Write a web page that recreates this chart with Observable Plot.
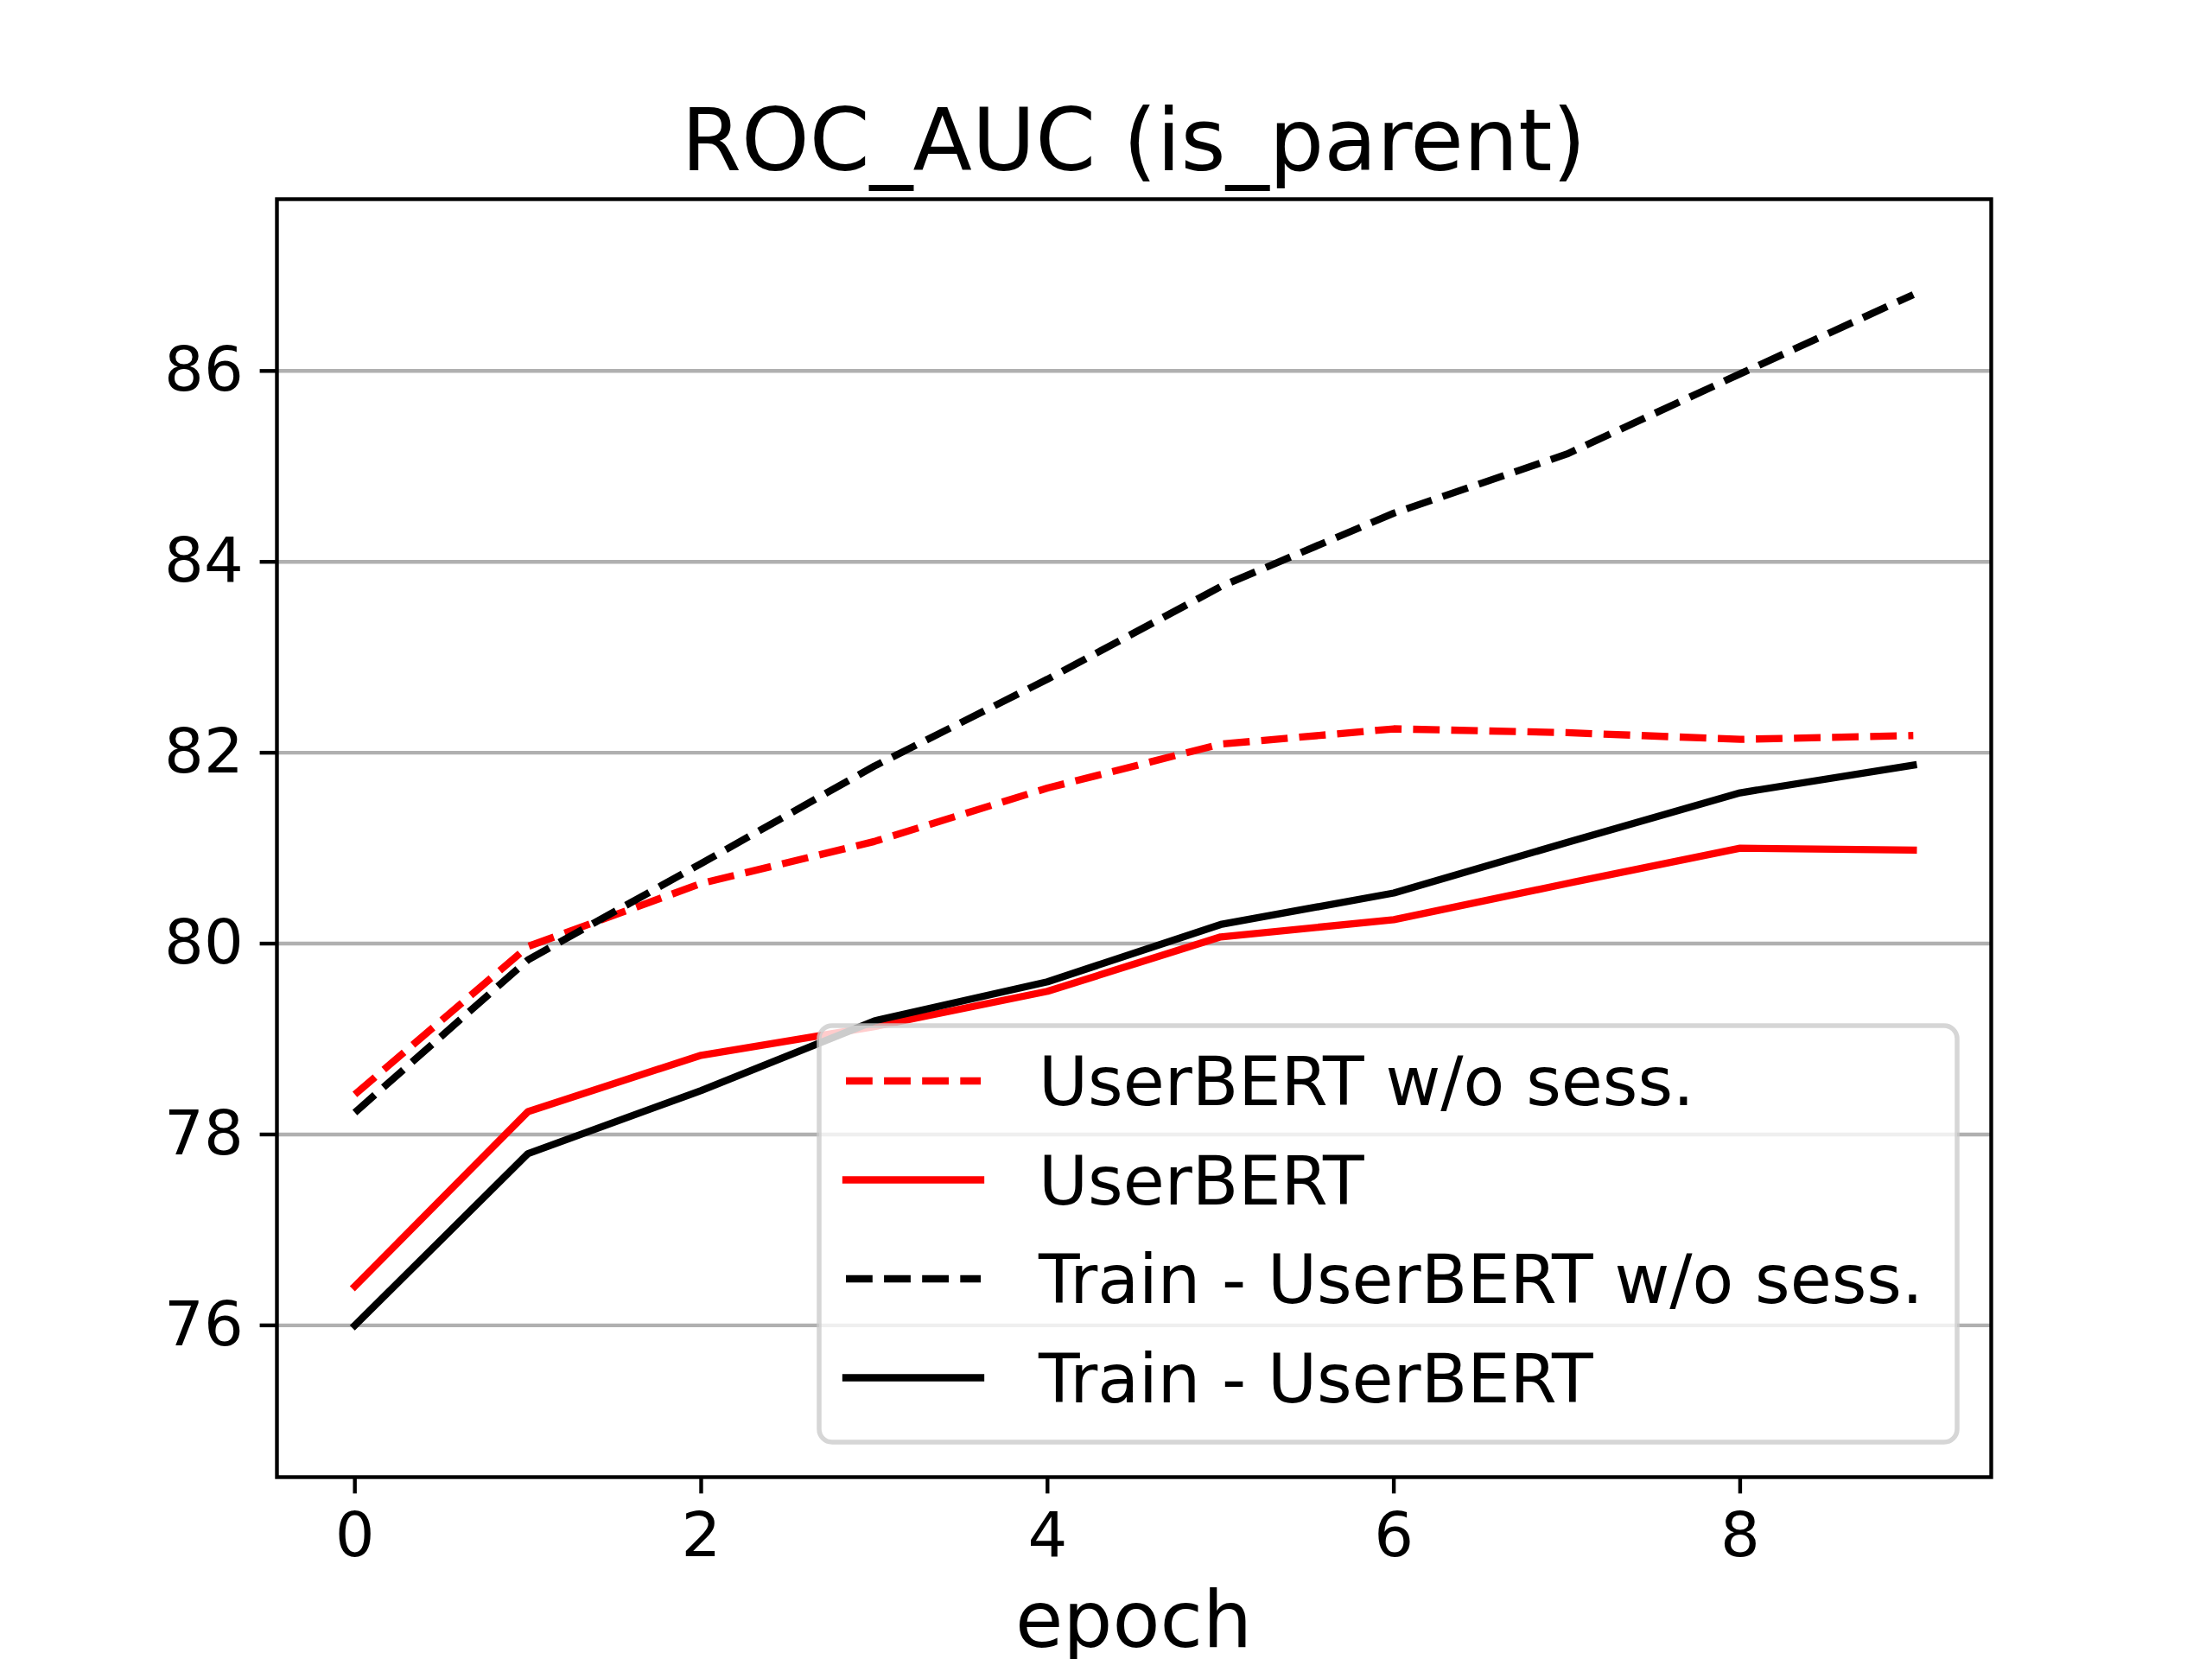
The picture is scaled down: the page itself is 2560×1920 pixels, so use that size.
<!DOCTYPE html>
<html>
<head>
<meta charset="utf-8">
<script src="https://cdn.jsdelivr.net/npm/d3@7"></script>
<script src="https://cdn.jsdelivr.net/npm/@observablehq/plot@0.6"></script>
<style>
  html, body { margin: 0; padding: 0; background: #fff; }
  #chart svg { display: block; }
</style>
</head>
<body>
<div id="chart"></div>
<script>
// ---- data ----
const epochs = [0, 1, 2, 3, 4, 5, 6, 7, 8, 9];
const userbertWoSess = [78.42, 79.97, 80.63, 81.07, 81.63, 82.09, 82.25, 82.21, 82.14, 82.18];
const userbert = [76.41, 78.24, 78.83, 79.13, 79.50, 80.07, 80.25, 80.63, 81.00, 80.98];
const trainUserbertWoSess = [78.23, 79.83, 80.84, 81.86, 82.77, 83.74, 84.51, 85.13, 85.97, 86.80];
const trainUserbert = [76.00, 77.80, 78.46, 79.19, 79.60, 80.20, 80.53, 81.06, 81.58, 81.87];
const seriesNames = ["UserBERT w/o sess.", "UserBERT", "Train - UserBERT w/o sess.", "Train - UserBERT"];
const seriesValues = [userbertWoSess, userbert, trainUserbertWoSess, trainUserbert];
const xTicks = [0, 2, 4, 6, 8];
const yTicks = [76, 78, 80, 82, 84, 86];
const titleText = "ROC_AUC (is_parent)";
const xLabelText = "epoch";

// ---- styles ----
const seriesColors = ["#ff0000", "#ff0000", "#000000", "#000000"];
const seriesDashed = [true, false, true, false];
const LW = 8.33;
const DASH = "30.8,13.3";
const FONT = "DejaVu Sans";

const W = 2560, H = 1920;
const mL = 320, mR = 256, mT = 230, mB = 211;

const rows = [];
seriesValues.forEach((vals, s) => {
  vals.forEach((v, i) => rows.push({series: seriesNames[s], epoch: epochs[i], value: v}));
});

const lineMarks = seriesNames.map((name, s) =>
  Plot.line(rows.filter(d => d.series === name), {
    x: "epoch", y: "value",
    stroke: seriesColors[s],
    strokeWidth: LW,
    strokeDasharray: seriesDashed[s] ? DASH : null,
    strokeLinecap: seriesDashed[s] ? "butt" : "square",
    strokeLinejoin: "round"
  })
);

const plot = Plot.plot({
  width: W, height: H,
  marginLeft: mL, marginRight: mR, marginTop: mT, marginBottom: mB,
  style: {fontFamily: FONT, background: "#fff", color: "#000", overflow: "visible"},
  x: {domain: [-0.45, 9.45]},
  y: {domain: [74.41, 87.80]},
  marks: [
    Plot.ruleY(yTicks, {stroke: "#b0b0b0", strokeWidth: 4.4}),
    ...lineMarks,
    Plot.axisX({ticks: xTicks, tickSize: 19.4, tickPadding: 21, strokeWidth: 4.4, fontSize: 72, fontFamily: FONT, label: null, tickFormat: d => String(d), fill: "#000"}),
    Plot.axisY({ticks: yTicks, tickSize: 19.4, tickPadding: 19.4, strokeWidth: 4.4, fontSize: 72, fontFamily: FONT, label: null, tickFormat: d => String(d), fill: "#000"}),
    Plot.frame({stroke: "#000", strokeWidth: 4.4})
  ]
});

document.getElementById("chart").appendChild(plot);

// ---- title, x label and legend ----
const svg = d3.select(plot);
const cx = mL + (W - mL - mR) / 2;
svg.append("text")
  .attr("x", cx).attr("y", 197)
  .attr("text-anchor", "middle")
  .attr("font-family", FONT).attr("font-size", 100)
  .attr("fill", "#000")
  .text(titleText);
svg.append("text")
  .attr("x", cx).attr("y", 1906)
  .attr("text-anchor", "middle")
  .attr("font-family", FONT).attr("font-size", 90)
  .attr("fill", "#000")
  .text(xLabelText);

const lg = svg.append("g");
lg.append("rect")
  .attr("x", 948).attr("y", 1187)
  .attr("width", 1317).attr("height", 482)
  .attr("rx", 15).attr("ry", 15)
  .attr("fill", "#fff").attr("fill-opacity", 0.8)
  .attr("stroke", "#cccccc").attr("stroke-opacity", 0.8)
  .attr("stroke-width", 5.5);
seriesNames.forEach((name, s) => {
  const y = 1251 + s * 114.5;
  lg.append("line")
    .attr("x1", 979).attr("x2", 1135)
    .attr("y1", y).attr("y2", y)
    .attr("stroke", seriesColors[s])
    .attr("stroke-width", LW)
    .attr("stroke-dasharray", seriesDashed[s] ? DASH : null)
    .attr("stroke-linecap", seriesDashed[s] ? "butt" : "square");
  lg.append("text")
    .attr("x", 1202).attr("y", y + 28)
    .attr("text-anchor", "start")
    .attr("font-family", FONT).attr("font-size", 78)
    .attr("fill", "#000")
    .text(name);
});
</script>
</body>
</html>
